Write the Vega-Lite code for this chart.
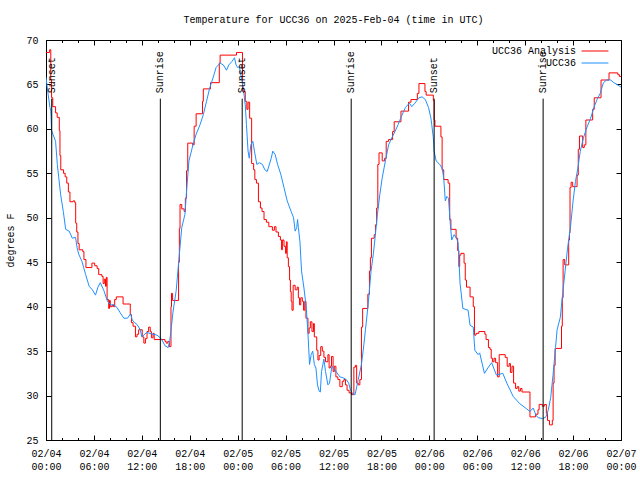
{
"$schema": "https://vega.github.io/schema/vega-lite/v6.json",
"width": 575, "height": 400,
"autosize": {"type": "none"},
"padding": {"left": 46, "top": 40, "right": 19, "bottom": 40},
"background": "white",
"title": {"text": "Temperature for UCC36 on 2025-Feb-04 (time in UTC)", "font": "Liberation Mono", "fontSize": 10, "fontWeight": "normal", "color": "black", "anchor": "middle", "offset": 10},
"config": {"view": {"stroke": "black", "strokeWidth": 1}, "font": "Liberation Mono",
  "axis": {"labelFont": "Liberation Mono", "labelFontSize": 10, "labelColor": "black", "tickColor": "black", "domainColor": "black", "grid": false, "titleFont": "Liberation Mono", "titleFontSize": 10, "titleFontWeight": "normal", "titleColor": "black", "labelFlush": false, "labelOverlap": false}},
"datasets": {
"ana": [
{"t":"2025-02-04T00:00:00Z","v":68.6},{"t":"2025-02-04T00:27:00Z","v":68.9},{"t":"2025-02-04T00:36:00Z","v":65.5},{"t":"2025-02-04T00:42:00Z","v":63.5},{"t":"2025-02-04T00:51:00Z","v":62.5},{"t":"2025-02-04T01:12:00Z","v":61.8},{"t":"2025-02-04T01:24:00Z","v":61.3},{"t":"2025-02-04T01:40:00Z","v":59.8},{"t":"2025-02-04T01:45:00Z","v":57.0},{"t":"2025-02-04T01:51:00Z","v":55.4},{"t":"2025-02-04T02:12:00Z","v":55.0},{"t":"2025-02-04T02:24:00Z","v":54.6},{"t":"2025-02-04T02:36:00Z","v":53.9},{"t":"2025-02-04T02:48:00Z","v":52.9},{"t":"2025-02-04T03:00:00Z","v":51.8},{"t":"2025-02-04T03:24:00Z","v":51.9},{"t":"2025-02-04T03:36:00Z","v":51.7},{"t":"2025-02-04T03:43:00Z","v":49.4},{"t":"2025-02-04T03:51:00Z","v":48.4},{"t":"2025-02-04T04:00:00Z","v":47.1},{"t":"2025-02-04T04:09:00Z","v":46.4},{"t":"2025-02-04T04:36:00Z","v":46.2},{"t":"2025-02-04T04:45:00Z","v":45.3},{"t":"2025-02-04T05:00:00Z","v":44.4},{"t":"2025-02-04T05:45:00Z","v":44.9},{"t":"2025-02-04T06:06:00Z","v":44.6},{"t":"2025-02-04T06:24:00Z","v":44.3},{"t":"2025-02-04T06:36:00Z","v":43.6},{"t":"2025-02-04T07:00:00Z","v":43.4},{"t":"2025-02-04T07:09:00Z","v":42.6},{"t":"2025-02-04T07:18:00Z","v":43.1},{"t":"2025-02-04T07:27:00Z","v":42.3},{"t":"2025-02-04T07:33:00Z","v":43.3},{"t":"2025-02-04T07:39:00Z","v":40.8},{"t":"2025-02-04T07:51:00Z","v":39.8},{"t":"2025-02-04T07:57:00Z","v":40.7},{"t":"2025-02-04T08:03:00Z","v":40.0},{"t":"2025-02-04T08:18:00Z","v":40.2},{"t":"2025-02-04T08:27:00Z","v":40.0},{"t":"2025-02-04T08:36:00Z","v":40.8},{"t":"2025-02-04T08:48:00Z","v":41.1},{"t":"2025-02-04T09:39:00Z","v":40.3},{"t":"2025-02-04T10:33:00Z","v":39.1},{"t":"2025-02-04T10:42:00Z","v":38.2},{"t":"2025-02-04T10:54:00Z","v":37.8},{"t":"2025-02-04T11:12:00Z","v":36.6},{"t":"2025-02-04T11:24:00Z","v":36.9},{"t":"2025-02-04T11:36:00Z","v":37.4},{"t":"2025-02-04T12:03:00Z","v":36.6},{"t":"2025-02-04T12:15:00Z","v":35.9},{"t":"2025-02-04T12:27:00Z","v":36.4},{"t":"2025-02-04T12:39:00Z","v":37.2},{"t":"2025-02-04T12:51:00Z","v":37.7},{"t":"2025-02-04T13:03:00Z","v":37.2},{"t":"2025-02-04T13:12:00Z","v":36.5},{"t":"2025-02-04T13:24:00Z","v":37.0},{"t":"2025-02-04T13:33:00Z","v":36.3},{"t":"2025-02-04T14:54:00Z","v":36.1},{"t":"2025-02-04T15:03:00Z","v":35.9},{"t":"2025-02-04T15:15:00Z","v":36.1},{"t":"2025-02-04T15:27:00Z","v":35.5},{"t":"2025-02-04T15:39:00Z","v":40.0},{"t":"2025-02-04T15:43:00Z","v":41.5},{"t":"2025-02-04T15:51:00Z","v":40.7},{"t":"2025-02-04T16:36:00Z","v":45.0},{"t":"2025-02-04T16:42:00Z","v":48.8},{"t":"2025-02-04T16:47:00Z","v":51.5},{"t":"2025-02-04T17:00:00Z","v":51.0},{"t":"2025-02-04T17:18:00Z","v":50.7},{"t":"2025-02-04T17:27:00Z","v":52.2},{"t":"2025-02-04T17:36:00Z","v":55.3},{"t":"2025-02-04T17:45:00Z","v":58.4},{"t":"2025-02-04T18:21:00Z","v":58.2},{"t":"2025-02-04T18:33:00Z","v":60.3},{"t":"2025-02-04T18:48:00Z","v":61.7},{"t":"2025-02-04T19:36:00Z","v":63.1},{"t":"2025-02-04T19:42:00Z","v":64.5},{"t":"2025-02-04T20:36:00Z","v":65.2},{"t":"2025-02-04T21:42:00Z","v":67.4},{"t":"2025-02-04T21:48:00Z","v":68.3},{"t":"2025-02-04T23:51:00Z","v":68.6},
{"t":"2025-02-05T00:36:00Z","v":64.2},{"t":"2025-02-05T00:57:00Z","v":63.1},{"t":"2025-02-05T01:09:00Z","v":62.2},{"t":"2025-02-05T01:18:00Z","v":63.0},{"t":"2025-02-05T01:30:00Z","v":61.2},{"t":"2025-02-05T01:45:00Z","v":56.1},{"t":"2025-02-05T02:00:00Z","v":55.4},{"t":"2025-02-05T02:09:00Z","v":54.3},{"t":"2025-02-05T02:21:00Z","v":53.9},{"t":"2025-02-05T02:36:00Z","v":51.8},{"t":"2025-02-05T02:51:00Z","v":51.1},{"t":"2025-02-05T03:03:00Z","v":50.7},{"t":"2025-02-05T03:18:00Z","v":49.8},{"t":"2025-02-05T03:36:00Z","v":49.5},{"t":"2025-02-05T03:54:00Z","v":49.0},{"t":"2025-02-05T04:21:00Z","v":48.6},{"t":"2025-02-05T04:36:00Z","v":49.0},{"t":"2025-02-05T04:48:00Z","v":48.4},{"t":"2025-02-05T05:06:00Z","v":47.9},{"t":"2025-02-05T05:21:00Z","v":47.5},{"t":"2025-02-05T05:30:00Z","v":46.4},{"t":"2025-02-05T05:36:00Z","v":47.5},{"t":"2025-02-05T05:48:00Z","v":46.8},{"t":"2025-02-05T06:00:00Z","v":46.0},{"t":"2025-02-05T06:06:00Z","v":47.3},{"t":"2025-02-05T06:12:00Z","v":45.5},{"t":"2025-02-05T06:21:00Z","v":44.5},{"t":"2025-02-05T06:30:00Z","v":43.0},{"t":"2025-02-05T06:36:00Z","v":41.7},{"t":"2025-02-05T06:42:00Z","v":40.6},{"t":"2025-02-05T06:48:00Z","v":39.6},{"t":"2025-02-05T06:57:00Z","v":42.4},{"t":"2025-02-05T07:12:00Z","v":41.9},{"t":"2025-02-05T07:27:00Z","v":42.2},{"t":"2025-02-05T07:36:00Z","v":41.0},{"t":"2025-02-05T07:45:00Z","v":40.2},{"t":"2025-02-05T07:54:00Z","v":41.0},{"t":"2025-02-05T08:06:00Z","v":40.6},{"t":"2025-02-05T08:15:00Z","v":39.6},{"t":"2025-02-05T08:24:00Z","v":40.6},{"t":"2025-02-05T08:33:00Z","v":38.7},{"t":"2025-02-05T08:48:00Z","v":37.0},{"t":"2025-02-05T08:57:00Z","v":37.6},{"t":"2025-02-05T09:06:00Z","v":38.3},{"t":"2025-02-05T09:18:00Z","v":37.2},{"t":"2025-02-05T09:30:00Z","v":38.1},{"t":"2025-02-05T09:36:00Z","v":36.6},{"t":"2025-02-05T09:54:00Z","v":35.1},{"t":"2025-02-05T10:03:00Z","v":34.0},{"t":"2025-02-05T10:12:00Z","v":34.5},{"t":"2025-02-05T10:24:00Z","v":35.5},{"t":"2025-02-05T10:36:00Z","v":35.0},{"t":"2025-02-05T10:48:00Z","v":34.3},{"t":"2025-02-05T11:00:00Z","v":33.8},{"t":"2025-02-05T11:18:00Z","v":34.6},{"t":"2025-02-05T11:27:00Z","v":33.1},{"t":"2025-02-05T11:36:00Z","v":33.3},{"t":"2025-02-05T11:45:00Z","v":34.4},{"t":"2025-02-05T11:57:00Z","v":32.7},{"t":"2025-02-05T12:06:00Z","v":33.3},{"t":"2025-02-05T12:18:00Z","v":32.1},{"t":"2025-02-05T12:33:00Z","v":31.8},{"t":"2025-02-05T12:48:00Z","v":31.0},{"t":"2025-02-05T13:06:00Z","v":31.6},{"t":"2025-02-05T13:18:00Z","v":31.8},{"t":"2025-02-05T13:30:00Z","v":31.2},{"t":"2025-02-05T13:42:00Z","v":30.6},{"t":"2025-02-05T13:57:00Z","v":30.3},{"t":"2025-02-05T14:15:00Z","v":30.1},{"t":"2025-02-05T14:33:00Z","v":33.2},{"t":"2025-02-05T14:45:00Z","v":33.4},{"t":"2025-02-05T14:54:00Z","v":31.4},{"t":"2025-02-05T15:06:00Z","v":31.2},{"t":"2025-02-05T15:18:00Z","v":31.8},{"t":"2025-02-05T15:30:00Z","v":37.7},{"t":"2025-02-05T15:39:00Z","v":39.8},{"t":"2025-02-05T16:18:00Z","v":41.4},{"t":"2025-02-05T16:30:00Z","v":44.0},{"t":"2025-02-05T16:37:00Z","v":45.5},{"t":"2025-02-05T16:45:00Z","v":47.7},{"t":"2025-02-05T17:06:00Z","v":48.1},{"t":"2025-02-05T17:15:00Z","v":49.2},{"t":"2025-02-05T17:24:00Z","v":51.1},{"t":"2025-02-05T17:33:00Z","v":56.0},{"t":"2025-02-05T17:42:00Z","v":57.3},{"t":"2025-02-05T18:06:00Z","v":56.4},{"t":"2025-02-05T18:24:00Z","v":56.7},{"t":"2025-02-05T18:36:00Z","v":58.6},{"t":"2025-02-05T18:54:00Z","v":58.8},{"t":"2025-02-05T19:24:00Z","v":59.7},{"t":"2025-02-05T19:36:00Z","v":60.8},{"t":"2025-02-05T20:27:00Z","v":62.0},{"t":"2025-02-05T21:24:00Z","v":63.0},{"t":"2025-02-05T21:42:00Z","v":63.3},{"t":"2025-02-05T22:30:00Z","v":64.0},{"t":"2025-02-05T22:42:00Z","v":65.1},{"t":"2025-02-05T23:27:00Z","v":64.2},{"t":"2025-02-05T23:36:00Z","v":63.8},
{"t":"2025-02-06T00:30:00Z","v":63.2},{"t":"2025-02-06T00:36:00Z","v":61.0},{"t":"2025-02-06T00:42:00Z","v":60.3},{"t":"2025-02-06T01:27:00Z","v":59.1},{"t":"2025-02-06T01:36:00Z","v":55.4},{"t":"2025-02-06T01:48:00Z","v":54.3},{"t":"2025-02-06T02:21:00Z","v":53.9},{"t":"2025-02-06T02:33:00Z","v":49.8},{"t":"2025-02-06T02:42:00Z","v":48.7},{"t":"2025-02-06T03:21:00Z","v":47.7},{"t":"2025-02-06T03:33:00Z","v":46.3},{"t":"2025-02-06T03:42:00Z","v":44.5},{"t":"2025-02-06T03:48:00Z","v":45.8},{"t":"2025-02-06T03:57:00Z","v":46.0},{"t":"2025-02-06T04:21:00Z","v":44.9},{"t":"2025-02-06T04:30:00Z","v":43.0},{"t":"2025-02-06T04:39:00Z","v":42.2},{"t":"2025-02-06T05:06:00Z","v":41.1},{"t":"2025-02-06T05:30:00Z","v":40.0},{"t":"2025-02-06T05:39:00Z","v":36.8},{"t":"2025-02-06T05:51:00Z","v":37.0},{"t":"2025-02-06T06:12:00Z","v":37.2},{"t":"2025-02-06T06:57:00Z","v":36.9},{"t":"2025-02-06T07:06:00Z","v":36.3},{"t":"2025-02-06T07:24:00Z","v":35.4},{"t":"2025-02-06T07:36:00Z","v":35.2},{"t":"2025-02-06T07:45:00Z","v":34.2},{"t":"2025-02-06T07:54:00Z","v":33.8},{"t":"2025-02-06T08:06:00Z","v":34.2},{"t":"2025-02-06T08:18:00Z","v":33.7},{"t":"2025-02-06T08:33:00Z","v":32.1},{"t":"2025-02-06T08:45:00Z","v":34.6},{"t":"2025-02-06T09:30:00Z","v":34.3},{"t":"2025-02-06T09:45:00Z","v":33.3},{"t":"2025-02-06T10:00:00Z","v":33.6},{"t":"2025-02-06T10:09:00Z","v":32.6},{"t":"2025-02-06T10:21:00Z","v":33.3},{"t":"2025-02-06T10:33:00Z","v":31.4},{"t":"2025-02-06T10:48:00Z","v":30.8},{"t":"2025-02-06T11:00:00Z","v":31.0},{"t":"2025-02-06T11:12:00Z","v":30.5},{"t":"2025-02-06T11:24:00Z","v":30.8},{"t":"2025-02-06T11:36:00Z","v":30.4},{"t":"2025-02-06T12:36:00Z","v":27.6},{"t":"2025-02-06T13:18:00Z","v":27.9},{"t":"2025-02-06T13:36:00Z","v":28.4},{"t":"2025-02-06T13:45:00Z","v":29.0},{"t":"2025-02-06T14:09:00Z","v":28.8},{"t":"2025-02-06T14:24:00Z","v":29.0},{"t":"2025-02-06T14:39:00Z","v":28.0},{"t":"2025-02-06T14:48:00Z","v":27.2},{"t":"2025-02-06T15:03:00Z","v":26.7},{"t":"2025-02-06T15:24:00Z","v":27.2},{"t":"2025-02-06T15:30:00Z","v":31.4},{"t":"2025-02-06T15:37:00Z","v":33.4},{"t":"2025-02-06T15:45:00Z","v":35.3},{"t":"2025-02-06T16:33:00Z","v":37.8},{"t":"2025-02-06T16:39:00Z","v":41.0},{"t":"2025-02-06T16:45:00Z","v":45.3},{"t":"2025-02-06T16:57:00Z","v":44.7},{"t":"2025-02-06T17:27:00Z","v":47.5},{"t":"2025-02-06T17:33:00Z","v":48.3},{"t":"2025-02-06T17:37:00Z","v":53.4},{"t":"2025-02-06T17:45:00Z","v":54.0},{"t":"2025-02-06T17:57:00Z","v":53.5},{"t":"2025-02-06T18:30:00Z","v":54.8},{"t":"2025-02-06T18:39:00Z","v":57.7},{"t":"2025-02-06T18:48:00Z","v":59.2},{"t":"2025-02-06T19:12:00Z","v":57.9},{"t":"2025-02-06T19:24:00Z","v":58.2},{"t":"2025-02-06T19:36:00Z","v":61.0},{"t":"2025-02-06T20:27:00Z","v":62.2},{"t":"2025-02-06T20:39:00Z","v":63.5},{"t":"2025-02-06T21:30:00Z","v":65.5},{"t":"2025-02-06T22:30:00Z","v":66.3},{"t":"2025-02-06T23:36:00Z","v":66.1},{"t":"2025-02-06T23:48:00Z","v":65.9},{"t":"2025-02-07T00:00:00Z","v":65.9}
],
"obs": [
{"t":"2025-02-04T00:00:00Z","v":65.8},{"t":"2025-02-04T00:15:00Z","v":64.0},{"t":"2025-02-04T00:30:00Z","v":62.4},{"t":"2025-02-04T00:36:00Z","v":62.0},{"t":"2025-02-04T00:42:00Z","v":59.8},{"t":"2025-02-04T01:12:00Z","v":58.6},{"t":"2025-02-04T01:25:00Z","v":56.0},{"t":"2025-02-04T01:36:00Z","v":54.5},{"t":"2025-02-04T01:50:00Z","v":52.6},{"t":"2025-02-04T02:10:00Z","v":50.7},{"t":"2025-02-04T02:28:00Z","v":48.7},{"t":"2025-02-04T02:54:00Z","v":48.5},{"t":"2025-02-04T03:18:00Z","v":47.7},{"t":"2025-02-04T03:42:00Z","v":47.8},{"t":"2025-02-04T03:54:00Z","v":46.6},{"t":"2025-02-04T04:06:00Z","v":45.9},{"t":"2025-02-04T04:30:00Z","v":45.1},{"t":"2025-02-04T04:58:00Z","v":43.6},{"t":"2025-02-04T05:24:00Z","v":42.3},{"t":"2025-02-04T05:48:00Z","v":41.9},{"t":"2025-02-04T06:12:00Z","v":41.3},{"t":"2025-02-04T06:30:00Z","v":42.2},{"t":"2025-02-04T06:48:00Z","v":42.7},{"t":"2025-02-04T07:15:00Z","v":41.8},{"t":"2025-02-04T07:42:00Z","v":40.6},{"t":"2025-02-04T08:06:00Z","v":40.2},{"t":"2025-02-04T08:30:00Z","v":40.2},{"t":"2025-02-04T08:54:00Z","v":39.9},{"t":"2025-02-04T09:18:00Z","v":39.3},{"t":"2025-02-04T09:45:00Z","v":38.7},{"t":"2025-02-04T10:12:00Z","v":38.7},{"t":"2025-02-04T10:36:00Z","v":39.2},{"t":"2025-02-04T10:48:00Z","v":38.5},{"t":"2025-02-04T11:06:00Z","v":38.2},{"t":"2025-02-04T11:24:00Z","v":38.0},{"t":"2025-02-04T11:48:00Z","v":37.4},{"t":"2025-02-04T12:00:00Z","v":36.6},{"t":"2025-02-04T12:36:00Z","v":37.1},{"t":"2025-02-04T13:24:00Z","v":36.9},{"t":"2025-02-04T13:54:00Z","v":36.8},{"t":"2025-02-04T14:18:00Z","v":36.5},{"t":"2025-02-04T14:30:00Z","v":36.3},{"t":"2025-02-04T14:54:00Z","v":35.6},{"t":"2025-02-04T15:18:00Z","v":35.4},{"t":"2025-02-04T15:30:00Z","v":36.2},{"t":"2025-02-04T15:42:00Z","v":37.7},{"t":"2025-02-04T15:54:00Z","v":39.4},{"t":"2025-02-04T16:18:00Z","v":41.8},{"t":"2025-02-04T16:42:00Z","v":45.9},{"t":"2025-02-04T17:00:00Z","v":48.9},{"t":"2025-02-04T17:24:00Z","v":50.4},{"t":"2025-02-04T17:36:00Z","v":53.0},{"t":"2025-02-04T17:54:00Z","v":56.4},{"t":"2025-02-04T18:24:00Z","v":58.2},{"t":"2025-02-04T18:48:00Z","v":59.4},{"t":"2025-02-04T19:18:00Z","v":60.5},{"t":"2025-02-04T19:42:00Z","v":61.6},{"t":"2025-02-04T20:06:00Z","v":63.1},{"t":"2025-02-04T20:30:00Z","v":64.6},{"t":"2025-02-04T20:54:00Z","v":65.7},{"t":"2025-02-04T21:18:00Z","v":66.9},{"t":"2025-02-04T21:48:00Z","v":67.4},{"t":"2025-02-04T22:12:00Z","v":67.2},{"t":"2025-02-04T22:36:00Z","v":66.6},{"t":"2025-02-04T22:54:00Z","v":67.2},{"t":"2025-02-04T23:18:00Z","v":67.6},{"t":"2025-02-04T23:36:00Z","v":68.0},{"t":"2025-02-04T23:48:00Z","v":67.2},
{"t":"2025-02-05T00:00:00Z","v":66.9},{"t":"2025-02-05T00:12:00Z","v":67.0},{"t":"2025-02-05T00:24:00Z","v":66.1},{"t":"2025-02-05T00:42:00Z","v":64.6},{"t":"2025-02-05T00:57:00Z","v":62.7},{"t":"2025-02-05T01:06:00Z","v":60.5},{"t":"2025-02-05T01:18:00Z","v":57.5},{"t":"2025-02-05T01:27:00Z","v":56.7},{"t":"2025-02-05T01:39:00Z","v":58.2},{"t":"2025-02-05T01:54:00Z","v":58.6},{"t":"2025-02-05T02:06:00Z","v":57.5},{"t":"2025-02-05T02:24:00Z","v":56.0},{"t":"2025-02-05T02:42:00Z","v":56.2},{"t":"2025-02-05T03:06:00Z","v":56.0},{"t":"2025-02-05T03:24:00Z","v":55.4},{"t":"2025-02-05T03:42:00Z","v":55.2},{"t":"2025-02-05T04:12:00Z","v":56.7},{"t":"2025-02-05T04:24:00Z","v":57.5},{"t":"2025-02-05T04:42:00Z","v":57.1},{"t":"2025-02-05T05:00:00Z","v":56.0},{"t":"2025-02-05T05:24:00Z","v":54.9},{"t":"2025-02-05T05:48:00Z","v":53.4},{"t":"2025-02-05T06:12:00Z","v":51.9},{"t":"2025-02-05T06:42:00Z","v":50.7},{"t":"2025-02-05T07:00:00Z","v":50.0},{"t":"2025-02-05T07:12:00Z","v":48.5},{"t":"2025-02-05T07:24:00Z","v":48.9},{"t":"2025-02-05T07:30:00Z","v":49.8},{"t":"2025-02-05T07:36:00Z","v":48.9},{"t":"2025-02-05T07:48:00Z","v":47.3},{"t":"2025-02-05T08:00:00Z","v":44.0},{"t":"2025-02-05T08:18:00Z","v":42.1},{"t":"2025-02-05T08:36:00Z","v":39.8},{"t":"2025-02-05T08:48:00Z","v":37.0},{"t":"2025-02-05T09:00:00Z","v":33.5},{"t":"2025-02-05T09:12:00Z","v":34.6},{"t":"2025-02-05T09:24:00Z","v":35.0},{"t":"2025-02-05T09:36:00Z","v":33.5},{"t":"2025-02-05T09:48:00Z","v":33.1},{"t":"2025-02-05T10:00:00Z","v":31.2},{"t":"2025-02-05T10:12:00Z","v":30.5},{"t":"2025-02-05T10:21:00Z","v":30.4},{"t":"2025-02-05T10:30:00Z","v":32.7},{"t":"2025-02-05T10:48:00Z","v":34.1},{"t":"2025-02-05T11:00:00Z","v":32.7},{"t":"2025-02-05T11:18:00Z","v":31.2},{"t":"2025-02-05T11:30:00Z","v":31.4},{"t":"2025-02-05T11:48:00Z","v":33.3},{"t":"2025-02-05T12:00:00Z","v":33.1},{"t":"2025-02-05T12:24:00Z","v":32.6},{"t":"2025-02-05T12:48:00Z","v":32.1},{"t":"2025-02-05T13:12:00Z","v":32.0},{"t":"2025-02-05T13:36:00Z","v":31.8},{"t":"2025-02-05T13:54:00Z","v":31.4},{"t":"2025-02-05T14:06:00Z","v":30.7},{"t":"2025-02-05T14:24:00Z","v":30.2},{"t":"2025-02-05T14:42:00Z","v":30.1},{"t":"2025-02-05T15:06:00Z","v":31.8},{"t":"2025-02-05T15:30:00Z","v":33.5},{"t":"2025-02-05T15:48:00Z","v":35.7},{"t":"2025-02-05T16:00:00Z","v":37.4},{"t":"2025-02-05T16:18:00Z","v":39.9},{"t":"2025-02-05T16:30:00Z","v":41.9},{"t":"2025-02-05T16:42:00Z","v":44.0},{"t":"2025-02-05T17:00:00Z","v":46.0},{"t":"2025-02-05T17:12:00Z","v":47.7},{"t":"2025-02-05T17:30:00Z","v":50.4},{"t":"2025-02-05T17:48:00Z","v":52.6},{"t":"2025-02-05T18:06:00Z","v":54.5},{"t":"2025-02-05T18:30:00Z","v":56.4},{"t":"2025-02-05T18:54:00Z","v":58.2},{"t":"2025-02-05T19:18:00Z","v":59.0},{"t":"2025-02-05T19:42:00Z","v":59.7},{"t":"2025-02-05T20:06:00Z","v":60.5},{"t":"2025-02-05T20:30:00Z","v":61.4},{"t":"2025-02-05T21:00:00Z","v":62.4},{"t":"2025-02-05T21:30:00Z","v":62.9},{"t":"2025-02-05T21:48:00Z","v":62.5},{"t":"2025-02-05T22:12:00Z","v":62.9},{"t":"2025-02-05T22:42:00Z","v":63.5},{"t":"2025-02-05T23:06:00Z","v":63.6},{"t":"2025-02-05T23:30:00Z","v":63.3},{"t":"2025-02-05T23:54:00Z","v":62.4},
{"t":"2025-02-06T00:12:00Z","v":61.2},{"t":"2025-02-06T00:18:00Z","v":60.5},{"t":"2025-02-06T00:30:00Z","v":59.0},{"t":"2025-02-06T00:36:00Z","v":57.5},{"t":"2025-02-06T00:51:00Z","v":56.4},{"t":"2025-02-06T01:18:00Z","v":56.0},{"t":"2025-02-06T01:36:00Z","v":55.6},{"t":"2025-02-06T01:48:00Z","v":54.5},{"t":"2025-02-06T02:00:00Z","v":51.9},{"t":"2025-02-06T02:12:00Z","v":52.4},{"t":"2025-02-06T02:24:00Z","v":52.2},{"t":"2025-02-06T02:36:00Z","v":49.6},{"t":"2025-02-06T02:48:00Z","v":47.5},{"t":"2025-02-06T03:06:00Z","v":48.1},{"t":"2025-02-06T03:24:00Z","v":47.7},{"t":"2025-02-06T03:36:00Z","v":47.2},{"t":"2025-02-06T03:51:00Z","v":42.6},{"t":"2025-02-06T04:12:00Z","v":39.8},{"t":"2025-02-06T04:51:00Z","v":39.6},{"t":"2025-02-06T05:06:00Z","v":37.9},{"t":"2025-02-06T05:30:00Z","v":37.7},{"t":"2025-02-06T05:42:00Z","v":35.1},{"t":"2025-02-06T06:06:00Z","v":34.6},{"t":"2025-02-06T06:18:00Z","v":34.8},{"t":"2025-02-06T06:54:00Z","v":32.5},{"t":"2025-02-06T07:24:00Z","v":33.2},{"t":"2025-02-06T07:48:00Z","v":33.7},{"t":"2025-02-06T08:24:00Z","v":32.3},{"t":"2025-02-06T09:12:00Z","v":32.5},{"t":"2025-02-06T09:42:00Z","v":31.4},{"t":"2025-02-06T10:30:00Z","v":29.9},{"t":"2025-02-06T11:18:00Z","v":29.1},{"t":"2025-02-06T12:12:00Z","v":28.5},{"t":"2025-02-06T12:36:00Z","v":28.2},{"t":"2025-02-06T13:00:00Z","v":28.6},{"t":"2025-02-06T13:24:00Z","v":27.7},{"t":"2025-02-06T13:42:00Z","v":27.5},{"t":"2025-02-06T14:12:00Z","v":27.4},{"t":"2025-02-06T14:36:00Z","v":27.6},{"t":"2025-02-06T14:54:00Z","v":28.4},{"t":"2025-02-06T15:12:00Z","v":29.8},{"t":"2025-02-06T15:30:00Z","v":32.4},{"t":"2025-02-06T15:48:00Z","v":35.4},{"t":"2025-02-06T16:00:00Z","v":37.4},{"t":"2025-02-06T16:24:00Z","v":38.8},{"t":"2025-02-06T16:42:00Z","v":41.5},{"t":"2025-02-06T17:00:00Z","v":44.0},{"t":"2025-02-06T17:18:00Z","v":46.5},{"t":"2025-02-06T17:42:00Z","v":49.2},{"t":"2025-02-06T18:00:00Z","v":51.9},{"t":"2025-02-06T18:18:00Z","v":54.1},{"t":"2025-02-06T18:36:00Z","v":55.6},{"t":"2025-02-06T18:54:00Z","v":57.5},{"t":"2025-02-06T19:18:00Z","v":59.0},{"t":"2025-02-06T19:42:00Z","v":60.1},{"t":"2025-02-06T20:12:00Z","v":61.2},{"t":"2025-02-06T20:36:00Z","v":62.4},{"t":"2025-02-06T21:00:00Z","v":63.3},{"t":"2025-02-06T21:24:00Z","v":64.0},{"t":"2025-02-06T21:48:00Z","v":65.2},{"t":"2025-02-06T22:12:00Z","v":65.5},{"t":"2025-02-06T22:42:00Z","v":65.5},{"t":"2025-02-06T23:06:00Z","v":65.2},{"t":"2025-02-06T23:30:00Z","v":65.0},{"t":"2025-02-07T00:00:00Z","v":64.7}
],
"sun": [
{"t":"2025-02-04T00:43:00Z","label":"Sunset"},{"t":"2025-02-04T14:19:00Z","label":"Sunrise"},{"t":"2025-02-05T00:34:00Z","label":"Sunset"},{"t":"2025-02-05T14:13:00Z","label":"Sunrise"},{"t":"2025-02-06T00:36:00Z","label":"Sunset"},{"t":"2025-02-06T14:15:00Z","label":"Sunrise"}
]
},
"resolve": {"axis": {"x": "independent", "y": "independent"}},
"layer": [
{
 "data": {"name": "ana"},
 "mark": {"type": "line", "interpolate": "step-after", "strokeWidth": 1, "clip": true},
 "encoding": {
  "x": {"field": "t", "type": "temporal", "scale": {"nice": false},
        "axis": {"orient": "bottom", "title": null, "values": [1738627200000,1738648800000,1738670400000,1738692000000,1738713600000,1738735200000,1738756800000,1738778400000,1738800000000,1738821600000,1738843200000,1738864800000,1738886400000], "labelExpr": "utcFormat(datum.value, '%m/%d')", "tickSize": -5, "labelPadding": 13, "labelBaseline": "top"}},
  "y": {"field": "v", "type": "quantitative",
        "scale": {"domain": [25, 70], "nice": false, "zero": false},
        "axis": {"orient": "left", "title": "degrees F", "values": [25,30,35,40,45,50,55,60,65,70], "tickSize": -5, "labelPadding": 13, "titlePadding": 10}},
  "color": {"datum": "UCC36 Analysis", "type": "nominal",
        "scale": {"domain": ["UCC36 Analysis", "UCC36"], "range": ["#ff0000", "#1e90ff"]},
        "legend": {"title": null, "orient": "none", "legendX": 544, "legendY": 6, "symbolType": "M-5,0H5", "symbolSize": 29, "symbolStrokeWidth": 1, "labelFont": "Liberation Mono", "labelFontSize": 10, "labelColor": "black", "labelAlign": "right", "labelOffset": -24, "rowPadding": 2, "padding": 0}}
 }
},
{
 "data": {"name": "obs"},
 "mark": {"type": "line", "strokeWidth": 1, "clip": true},
 "encoding": {
  "x": {"field": "t", "type": "temporal",
        "axis": {"orient": "top", "title": null, "values": [1738627200000,1738648800000,1738670400000,1738692000000,1738713600000,1738735200000,1738756800000,1738778400000,1738800000000,1738821600000,1738843200000,1738864800000,1738886400000], "labels": false, "tickSize": -5, "domain": false}},
  "y": {"field": "v", "type": "quantitative",
        "axis": {"orient": "right", "title": null, "values": [25,30,35,40,45,50,55,60,65,70], "labels": false, "tickSize": -5, "domain": false}},
  "color": {"datum": "UCC36", "type": "nominal"}
 }
},
{
 "data": {"name": "sun"},
 "mark": {"type": "rule", "color": "black", "strokeWidth": 1},
 "encoding": {
  "x": {"field": "t", "type": "temporal",
        "axis": {"orient": "bottom", "title": null, "values": [1738627200000,1738634400000,1738641600000,1738648800000,1738656000000,1738663200000,1738670400000,1738677600000,1738684800000,1738692000000,1738699200000,1738706400000,1738713600000,1738720800000,1738728000000,1738735200000,1738742400000,1738749600000,1738756800000,1738764000000,1738771200000,1738778400000,1738785600000,1738792800000,1738800000000,1738807200000,1738814400000,1738821600000,1738828800000,1738836000000,1738843200000,1738850400000,1738857600000,1738864800000,1738872000000,1738879200000,1738886400000], "labels": false, "tickSize": -2.5, "domain": false}},
  "y": {"datum": 63.4, "type": "quantitative", "axis": null},
  "y2": {"datum": 25}
 }
},
{
 "data": {"name": "sun"},
 "mark": {"type": "text", "angle": 270, "align": "left", "baseline": "middle", "font": "Liberation Mono", "fontSize": 10, "color": "black"},
 "encoding": {
  "x": {"field": "t", "type": "temporal",
        "axis": {"orient": "bottom", "title": null, "values": [1738627200000,1738648800000,1738670400000,1738692000000,1738713600000,1738735200000,1738756800000,1738778400000,1738800000000,1738821600000,1738843200000,1738864800000,1738886400000], "labelExpr": "utcFormat(datum.value, '%H:%M')", "ticks": false, "domain": false, "labelPadding": 21, "labelBaseline": "top"}},
  "y": {"datum": 64, "type": "quantitative", "axis": null},
  "text": {"field": "label"}
 }
},
{
 "data": {"name": "sun"},
 "mark": {"type": "point", "opacity": 0},
 "encoding": {
  "x": {"field": "t", "type": "temporal",
        "axis": {"orient": "top", "title": null, "values": [1738627200000,1738634400000,1738641600000,1738648800000,1738656000000,1738663200000,1738670400000,1738677600000,1738684800000,1738692000000,1738699200000,1738706400000,1738713600000,1738720800000,1738728000000,1738735200000,1738742400000,1738749600000,1738756800000,1738764000000,1738771200000,1738778400000,1738785600000,1738792800000,1738800000000,1738807200000,1738814400000,1738821600000,1738828800000,1738836000000,1738843200000,1738850400000,1738857600000,1738864800000,1738872000000,1738879200000,1738886400000], "labels": false, "tickSize": -2.5, "domain": false}},
  "y": {"datum": 50, "type": "quantitative", "axis": null}
 }
}
]
}
